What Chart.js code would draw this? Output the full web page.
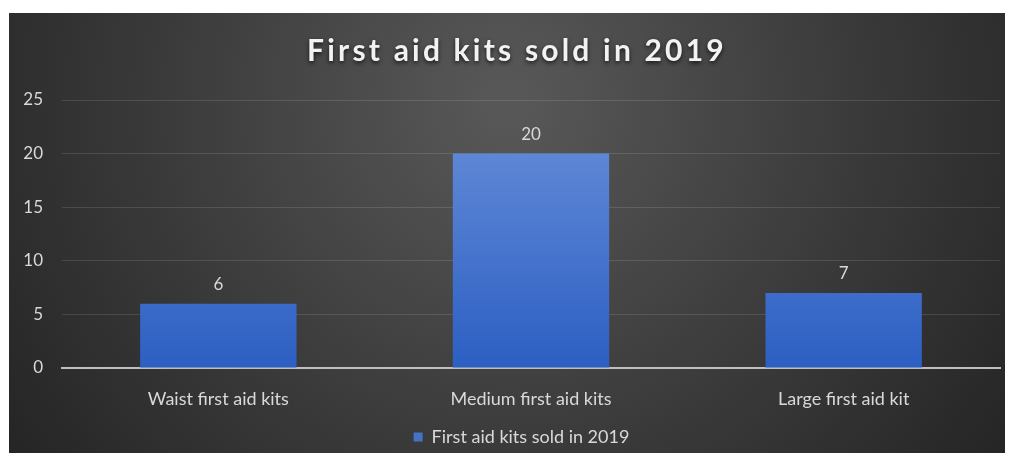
<!DOCTYPE html>
<html>
<head>
<meta charset="utf-8">
<script src="https://cdn.jsdelivr.net/npm/chart.js@4"></script>
<style>
  body { margin: 0; background: #fff; }
  #wrap { position: absolute; left: 9px; top: 13px; width: 996px; height: 440px; }
</style>
</head>
<body>
<div id="wrap"><canvas id="chart"></canvas></div>
<script>
const chartTitle = "First aid kits sold in 2019";
const categories = ["Waist first aid kits", "Medium first aid kits", "Large first aid kit"];
const kitsSold = [6, 20, 7];
const seriesName = "First aid kits sold in 2019";
const yTicks = [0, 5, 10, 15, 20, 25];

const FONT = "Lato, 'Liberation Sans', sans-serif";
const textGray = "#d9d9d9";

// dark radial background like the office theme
const bgPlugin = {
  id: "bg",
  beforeDraw(chart) {
    const { ctx, width, height } = chart;
    const g = ctx.createRadialGradient(width / 2, 90, 20, width / 2, 90, 620);
    g.addColorStop(0, "#575757");
    g.addColorStop(0.55, "#3a3a3a");
    g.addColorStop(1, "#242424");
    ctx.save();
    ctx.fillStyle = g;
    ctx.fillRect(0, 0, width, height);
    ctx.restore();
  }
};

// the legend sits a little right of and below the default spot
const legendNudge = {
  id: "legendNudge",
  afterLayout(chart) {
    const lg = chart.legend;
    if (!lg) return;
    lg.left += 17; lg.right += 17;
    lg.top += 3; lg.bottom += 3;
  }
};

// title with soft shadow
const titlePlugin = {
  id: "shadowTitle",
  afterDraw(chart) {
    const ctx = chart.ctx;
    ctx.save();
    ctx.font = "bold 30px " + FONT;
    ctx.letterSpacing = "3.2px";
    ctx.textAlign = "center";
    ctx.textBaseline = "middle";
    ctx.shadowColor = "rgba(0,0,0,0.7)";
    ctx.shadowBlur = 4;
    ctx.shadowOffsetY = 2;
    ctx.fillStyle = "#f2f2f2";
    ctx.fillText(chartTitle, chart.width / 2 + 10, 38);
    ctx.restore();
  }
};

// value labels above bars
const valuePlugin = {
  id: "values",
  afterDatasetsDraw(chart) {
    const ctx = chart.ctx;
    const meta = chart.getDatasetMeta(0);
    ctx.save();
    ctx.font = "17px " + FONT;
    ctx.fillStyle = textGray;
    ctx.textAlign = "center";
    ctx.textBaseline = "bottom";
    meta.data.forEach((bar, i) => {
      ctx.fillText(String(kitsSold[i]), bar.x, bar.y - 11);
    });
    ctx.restore();
  }
};

function barGradient(context) {
  const area = context.chart.chartArea;
  if (!area) return "#4472c4";
  const g = context.chart.ctx.createLinearGradient(0, area.top, 0, area.bottom);
  g.addColorStop(0, "#6a90da");
  g.addColorStop(1, "#2c5fc3");
  return g;
}

new Chart(document.getElementById("chart"), {
  type: "bar",
  data: {
    labels: categories,
    datasets: [{
      label: seriesName,
      data: kitsSold,
      backgroundColor: barGradient,
      borderWidth: 0,
      barPercentage: 0.5,
      categoryPercentage: 1.0
    }]
  },
  options: {
    responsive: true,
    maintainAspectRatio: false,
    animation: false,
    layout: { padding: { top: 87, right: 5, left: 0, bottom: 0 } },
    plugins: {
      title: { display: false },
      tooltip: { enabled: false },
      legend: {
        position: "bottom",
        labels: {
          color: textGray,
          font: { family: FONT, size: 18 },
          boxWidth: 9,
          boxHeight: 9,
          padding: 6,
          generateLabels: (chart) => [{
            text: seriesName,
            fillStyle: "#4472c4",
            strokeStyle: "#4472c4",
            lineWidth: 0,
            fontColor: textGray,
            datasetIndex: 0
          }]
        }
      }
    },
    scales: {
      x: {
        grid: { display: false },
        border: { display: true, color: "#bfbfbf", width: 2 },
        ticks: { color: textGray, font: { family: FONT, size: 18 }, padding: 12 },
        afterFit: (s) => { s.height = 51; }
      },
      y: {
        min: 0,
        max: 25,
        afterBuildTicks: (s) => { s.ticks = yTicks.map(v => ({ value: v })); },
        grid: { color: "rgba(255,255,255,0.12)", lineWidth: 1, drawTicks: false },
        border: { display: false },
        ticks: { color: textGray, font: { family: FONT, size: 17 }, padding: 19 },
        afterFit: (s) => { s.width = 53; }
      }
    }
  },
  plugins: [bgPlugin, legendNudge, titlePlugin, valuePlugin]
});
</script>
</body>
</html>
